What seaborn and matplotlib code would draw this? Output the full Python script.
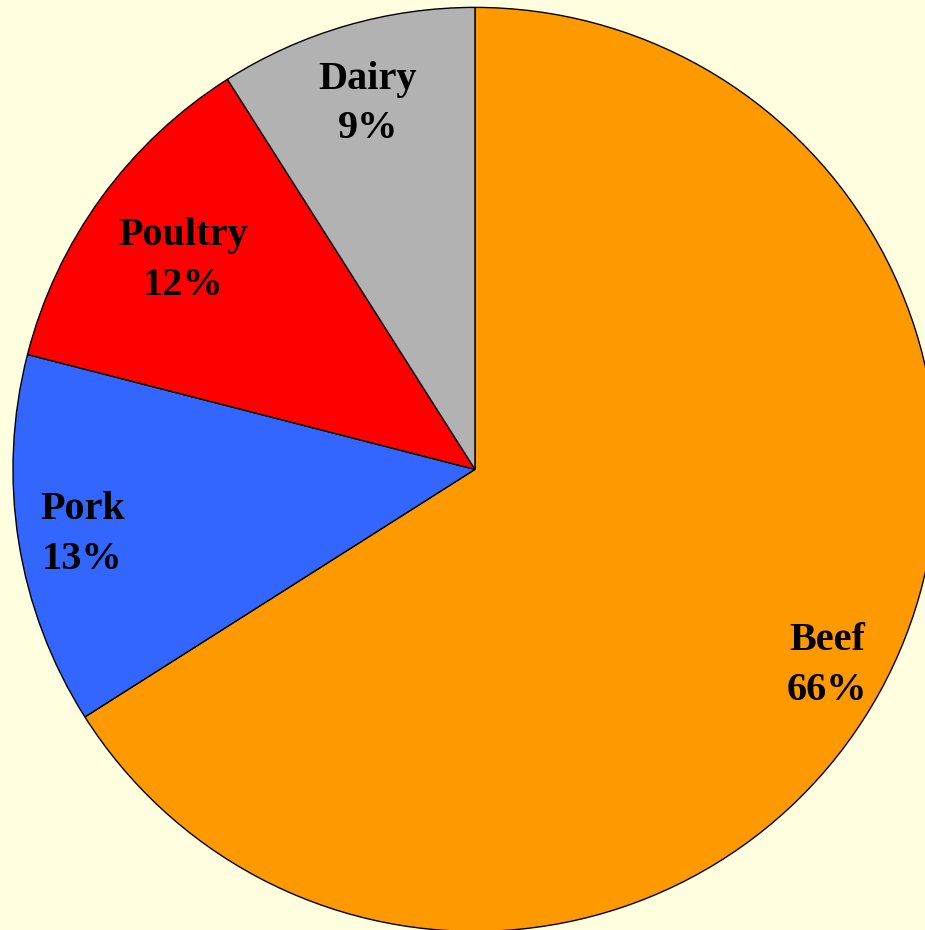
import numpy as np
import matplotlib
matplotlib.use("Agg")
import matplotlib.pyplot as plt
import seaborn as sns

categories = ["Beef", "Pork", "Poultry", "Dairy"]
shares = [66, 13, 12, 9]
colors = ["#FF9900", "#3366FF", "#FF0000", "#B2B2B2"]
label_dist = [0.87, 0.86, 0.78, 0.83]

sns.set_theme(style="white")
plt.rcParams['font.family'] = ['Liberation Serif', 'DejaVu Serif']

fig = plt.figure(figsize=(9.25, 9.30), dpi=100, facecolor="#FFFFE0")
ax = fig.add_axes([0, 0, 1, 1])
ax.set_facecolor("#FFFFE0")

wedges, _ = ax.pie(shares, colors=colors, startangle=90, counterclock=False,
                   radius=1.0, wedgeprops=dict(edgecolor="black", linewidth=1.0))

for w, cat, s, d in zip(wedges, categories, shares, label_dist):
    mid = np.deg2rad((w.theta1 + w.theta2) / 2)
    x, y = d * np.cos(mid), d * np.sin(mid) - 0.006
    ax.text(x, y, f"{cat}\n{s}%", ha="center", va="center", fontsize=29,
            fontweight="bold", color="black", linespacing=1.45)

ax.set_xlim(-1.028, 0.974)
ax.set_ylim(-0.997, 1.016)
ax.set_aspect("equal")
ax.axis("off")

fig.savefig("out.png", dpi=100, facecolor=fig.get_facecolor())
